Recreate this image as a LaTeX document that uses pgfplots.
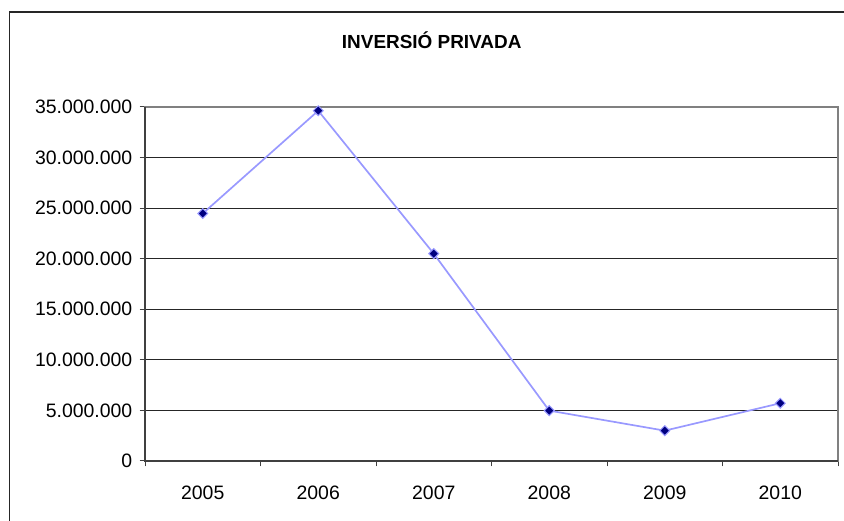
\documentclass[border=0pt]{standalone}
\usepackage{fontspec}
\setmainfont{Liberation Sans}
\usepackage{pgfplots}
\pgfplotsset{compat=1.18}
\definecolor{linecol}{HTML}{9999FF}
\definecolor{markcol}{HTML}{000080}
\definecolor{axcol}{HTML}{404040}

\begin{document}
\begin{tikzpicture}[x=1bp,y=1bp]
\useasboundingbox (0,0) rectangle (844,521);
% chart frame (cut off at right and bottom)
\draw[line width=1.4bp, black!85] (9.3,-10) -- (9.3,509) -- (860,509);
\node[font=\fontsize{19}{23}\selectfont\bfseries] at (431.7,481) {INVERSIÓ PRIVADA};
\begin{axis}[at={(145bp,60bp)}, anchor=south west, scale only axis,
 width=693bp, height=354bp,
 xmin=-0.5, xmax=5.5, ymin=0, ymax=35000000,
 xtick={-0.5,0.5,...,5.5}, x tick label as interval,
 xticklabels={2005,2006,2007,2008,2009,2010},
 ytick={0,5000000,10000000,15000000,20000000,25000000,30000000,35000000},
 yticklabels={0,5.000.000,10.000.000,15.000.000,20.000.000,25.000.000,30.000.000,35.000.000},
 scaled y ticks=false,
 xtick pos=bottom, ytick pos=left, tick align=outside,
 major tick length=5.5bp,
 tick style={draw=axcol, line width=1bp},
 tick label style={font=\fontsize{19.5}{23}\selectfont, inner sep=0pt},
 xticklabel style={anchor=north, yshift=-19bp},
 yticklabel style={anchor=east, xshift=-7bp},
 ymajorgrids, grid style={draw=black!85, line width=1bp},
 axis line style={draw=gray, line width=1.5bp},
 clip=false]
\addplot[color=linecol, line width=1.7bp, mark=square*,
 mark options={rotate=45, mark size=3.5bp, fill=markcol, draw=linecol, line width=1bp}]
 coordinates {(0,24470000) (1,34630000) (2,20500000) (3,4980000) (4,3000000) (5,5710000)};
\draw[draw=axcol, line width=1.8bp] (axis cs:-0.5,35000000) -- (axis cs:-0.5,0) -- (axis cs:5.5,0);
\end{axis}
\end{tikzpicture}
\end{document}
